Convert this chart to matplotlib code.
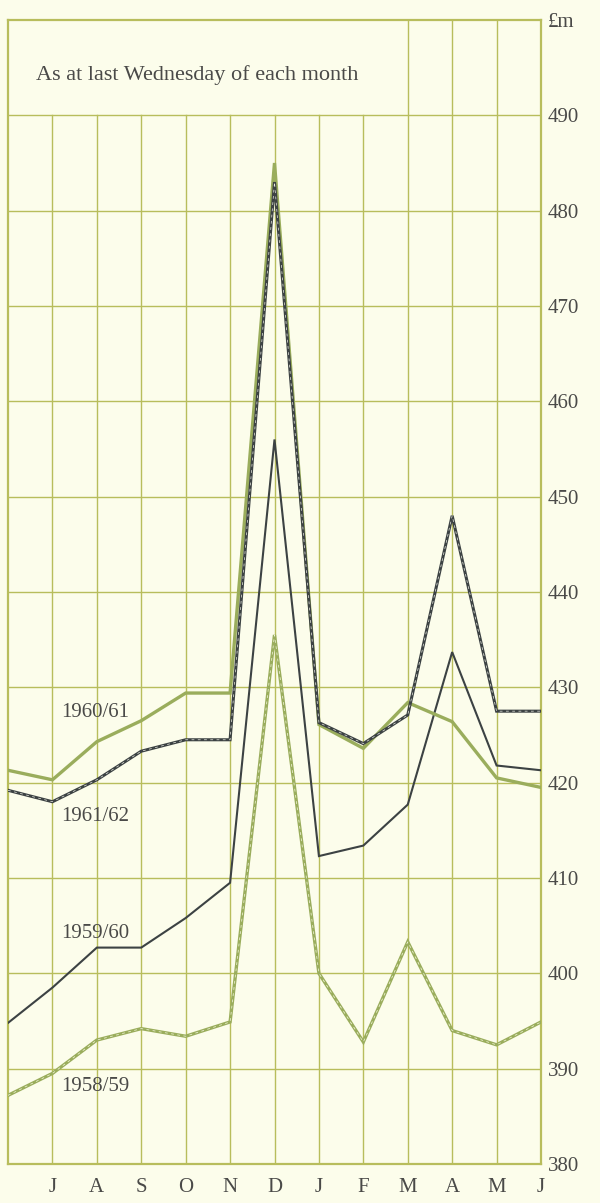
import matplotlib
matplotlib.use("Agg")
import matplotlib.pyplot as plt

# ---- data ----
months = ["J", "A", "S", "O", "N", "D", "J", "F", "M", "A", "M", "J"]
x_pos = list(range(13))  # 0 = end of previous June
y_ticks = [380, 390, 400, 410, 420, 430, 440, 450, 460, 470, 480, 490]

s_1960_61 = [421.3, 420.3, 424.3, 426.5, 429.4, 429.4, 485.0, 426.1, 423.6, 428.4, 426.4, 420.5, 419.5]
s_1961_62 = [419.2, 418.0, 420.3, 423.3, 424.5, 424.5, 483.0, 426.3, 424.1, 427.1, 448.0, 427.5, 427.5]
s_1959_60 = [394.8, 398.5, 402.7, 402.7, 405.8, 409.5, 456.0, 412.3, 413.4, 417.7, 433.7, 421.8, 421.3]
s_1958_59 = [387.2, 389.5, 393.0, 394.2, 393.4, 394.9, 435.5, 400.0, 392.8, 403.3, 394.0, 392.5, 394.9]

series_labels = ["1960/61", "1961/62", "1959/60", "1958/59"]
label_pos = [(1.2, 427.4), (1.2, 416.5), (1.2, 404.2), (1.2, 388.1)]

# ---- style ----
BG = "#fcfdeb"
GRID = "#b8bd5c"
GREEN = "#9aad5c"
DARK = "#3c4243"
TEXT = "#4a4a48"
SERIF = ["Liberation Serif", "DejaVu Serif"]

W, H = 600, 1203
fig = plt.figure(figsize=(W / 100, H / 100), dpi=100, facecolor=BG)
left, right = 8 / W, 541 / W
bottom, top = (H - 1164) / H, (H - 20) / H
ax = fig.add_axes([left, bottom, right - left, top - bottom], facecolor=BG)
ax.set_xlim(0, 12)
ax.set_ylim(380, 500)

# grid
for v in y_ticks[1:]:
    ax.axhline(v, color=GRID, lw=1.0, zorder=1)
for i in range(1, 12):
    ytop = 500 if i in (9, 10, 11) else 490
    ax.plot([i, i], [380, ytop], color=GRID, lw=1.0, zorder=1)
for sp in ax.spines.values():
    sp.set_color(GRID)
    sp.set_linewidth(1.6)

# series
ax.plot(x_pos, s_1958_59, color=GREEN, lw=2.4, zorder=3, solid_joinstyle="miter")
ax.plot(x_pos, s_1958_59, color="#f4f6dc", lw=0.5, ls=(0, (4, 5)), zorder=4)
ax.plot(x_pos, s_1959_60, color=DARK, lw=1.5, zorder=3, solid_joinstyle="miter")
ax.plot(x_pos, s_1960_61, color=GREEN, lw=2.4, zorder=3, solid_joinstyle="miter")
ax.plot(x_pos, s_1961_62, color=DARK, lw=2.2, zorder=5, solid_joinstyle="miter")
ax.plot(x_pos, s_1961_62, color="#e8eae0", lw=0.5, ls=(0, (4, 5)), zorder=6)

for lab, (lx, ly) in zip(series_labels, label_pos):
    ax.text(lx, ly, lab, fontsize=15, family=SERIF, color=TEXT, va="center", ha="left", zorder=7)

ax.text(0.63, 494.2, "As at last Wednesday of each month", fontsize=16,
        family=SERIF, color=TEXT, va="center", ha="left")

# axes ticks
ax.set_xticks(range(1, 13))
ax.set_xticklabels(months, family=SERIF, fontsize=15, color=TEXT)
ax.yaxis.tick_right()
ax.set_yticks(y_ticks + [500])
ax.set_yticklabels([str(v) for v in y_ticks] + ["£m"], family=SERIF, fontsize=15, color=TEXT)
ax.tick_params(axis="both", length=0)
ax.tick_params(axis="x", pad=10)
ax.tick_params(axis="y", pad=5)

fig.savefig("out.png", dpi=100, facecolor=BG)
